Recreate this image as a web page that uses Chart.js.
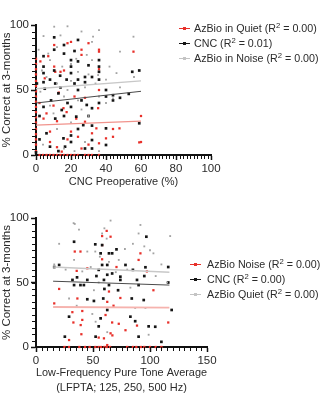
<!DOCTYPE html>
<html>
<head>
<meta charset="utf-8">
<script src="https://cdn.jsdelivr.net/npm/chart.js@4.4.1/dist/chart.umd.min.js"></script>
<style>
  body { margin: 0; background: #fff; }
  #wrap { position: relative; width: 324px; height: 400px; overflow: hidden; }
  .pane { position: absolute; left: 0; width: 324px; height: 200px; }
  .legend { position: absolute; font-family: "Liberation Sans", Arial, sans-serif; font-size: 10.7px; color: #2b2b2b; white-space: nowrap; }
  .legend .row { height: 15px; line-height: 15px; position: relative; }
  .legend .mark { position: absolute; top: 7px; width: 11px; height: 1px; }
  .legend .mark i { position: absolute; left: 4px; top: -1px; width: 3px; height: 3px; }
  .legend sup { font-size: 0.72em; line-height: 0; vertical-align: 0.5em; }
</style>
</head>
<body>
<div id="wrap">
  <div class="pane" style="top:0"><canvas id="topChart" width="324" height="200"></canvas></div>
  <div class="pane" style="top:200px"><canvas id="bottomChart" width="324" height="200"></canvas></div>
  <div class="legend" id="topLegend" style="left:179px; top:21px"></div>
  <div class="legend" id="bottomLegend" style="left:190px; top:257px"></div>
</div>
<script>
// ---- top panel: 3-month scores vs CNC preoperative (%) ----
const topQuiet = [
  [0,3],[0,8],[0,12],[0,16],[0,20],[0,25],[0,29],[0,33],[0,37],[0,41],[0,45],[0,49],[0,53],[0,57],[0,62],[0,66],[0,70],[0,74],
  [2,0],[4,0],[6,0],[8,0],[10,0],[12,0],[14,0],[16,0],[18,0],[20,0],[22,0],[24,0],[28,0],[30,0],[32,0],[36,0],
  [2.5,72],[10.4,84.6],[18,86],[26,81],[36,79.5],[55.7,79.5],[10.4,68],[14,64],[16,65],[26,77],
  [4.3,28],[10,38],[15.7,36],[17.5,33],[23,28],[35.5,36],[28,25.6],[8,18],[34.5,20.5],[47.7,20.5],
  [32,16.7],[20,18],[44,14],[40,12.8],[36,9],[59,9.7],[26,5],[14.7,2.6],
  [30,86],[20,87],[36,81],[7,76],[11,64],[36,66],[5,59],[36,50],[13,48],[60,30],[60,10],[44,20],
  [22,45],[28,44],[6,32],[12,26],[2,40],[18,12],[24,14],[30,8],[12,6],[8,10]
];
const topCnc = [
  [10.4,90.5],[24,88.5],[16,84.6],[10.4,81],[22,80],[4.3,76],[16,78],[20,73],[36,73],[24,72],
  [4.3,68],[10.4,65],[20,68],[30,69],[36,68],[4.3,63],[13.8,61],[20,63],[28,60],[32,60],
  [36,64],[59,65],[55,64],[8,58],[17.5,58],[24,58],[11,55],[28,56],[36,58],[4.3,56],[0.5,55],
  [12.8,47.4],[24,50],[40,50],[40,45],[53,47],[4.3,37],[14.7,34.6],[20,37],[29,38.5],[32,36],
  [11,28],[23,29.5],[27,23],[32,22.6],[40,20.5],[59,24.4],[6,16.7],[15.7,12.8],[20,15],[20,10],
  [32,11.5],[8,6.4],[40,7.7],[16.6,6.4],[32,5],
  [44,46],[44,42],[48,44],[22,55],[14,52],[5,51],[8.6,42],[28,5],[12.8,3],[2,12],
  [18,40],[26,42],[30,30],[16,30],[24,20],[36,40],[2,30],[0,2]
];
const topNoise = [
  [10.4,98.7],[18,99],[26,95],[36,96],[4.3,91.5],[14,92],[32.6,91],[48,79.5],[55.7,91],[1.5,81],
  [7,78],[12,83],[29,77],[32,87],[32,73],[23,74],[8,73],[42,68],[46,63],[20,70],
  [3.4,65],[15,68],[35.5,61.5],[2.5,48.7],[44,43.6],[40,40],[8,38],[16,45],[24,42],[30,30],
  [36,45],[12,20],[20,25],[28,10],[4,8],[16,5],[22,3],[36,3],[28,52],[12,55],
  [20,57],[24,64],[30,62],[6,60],[40,58],[48,52],[56,60],[18,50],[26,35],[10,32],[34,55]
];
const topFitX = [0, 60];
const topFitQuiet = [23, 26];
const topFitCnc = [40, 49];
const topFitNoise = [51, 57];

// ---- bottom panel: 3-month scores vs low-frequency PTA ----
const botNoise = [
  [65.4,85.5],[58,79],[34,74],[58,68],[91.6,72.6],[90,67.5],[45,61],[35.7,59],[70.6,62],[97.3,58.6],
  [20.3,45],[16,33.8],[36.3,37.6],[64,43],[74,38],[62.5,35],[68,32],[40.6,27.9],[31.9,27],[61,24.8],
  [40.6,21],[32.8,19],[39.2,17],[66.8,19],[72.6,18],[78.5,13],[88.6,16.6],[103,44],[116,19],[65.4,10.6],
  [67,9],[55,7.3],[59.6,6.7],[39.8,9.9],[29,5.4],[62.5,1.5],[58,86],[39,74],[62,90],
  [25,0],[29,0],[38,0],[43,0],[47,0],[52,0],[55,0],[57,0],[60,0],[62,0],[65,0],[80,0],[85,0],[88,0],
  [92,0],[95,0],[100,0],[105,0],[110,0]
];
const botCnc = [
  [33.4,81.6],[52,79.6],[58,79],[96.8,85.5],[70.6,75.7],[56.7,72.6],[64,72.6],[66.8,72.6],[58,63.6],[62.5,63.6],
  [78.5,63.6],[96,61.8],[116,62],[16,62],[20.3,63.6],[55,59.8],[66.8,57],[62.5,56],[74,54.5],[85,59.8],
  [32,52],[33.4,48],[39,48],[59.6,52],[64,48],[74,52],[88.6,52],[116,50],[45,37],[50.8,35.7],
  [59,37.6],[84,37.6],[94.5,36.4],[62.5,28.7],[119,28.7],[29,23.5],[56.7,22.2],[82.8,23.5],[87,20],[55,16],
  [98.8,16],[25.3,8],[52.3,8],[90,8],[110,4],[104.6,15.7],
  [36,54],[42,48],[53,55],[60,45],[72,44],[90,48],[95,55],[45,52]
];
const botQuiet = [
  [34,95.4],[65.4,98],[37.7,91],[58,88],[91.6,94.6],[117.7,86],[20.3,80],[45,74],[72.6,67.5],[103,72.6],
  [33.4,67.5],[40.6,58.6],[52,74],[33,96],[50.8,44],[82.8,46],[29,37.6],[35.7,32],[49.4,25.6],[87,30.3],
  [96,30.3],[52.3,19.6],[98.8,9.5],[62.5,11.5],
  [60,92],[62,84],[56,70],[64,66],[80,60],[85,80],[95,78],[100,75],[110,64],[16,64],
  [26,60],[48,62],[70,58],[78,76],[90,88],[105,55],[115,50],[55,50]
];
const botFitX = [15, 117];
const botFitNoise = [31, 30.5];
const botFitCnc = [51, 48];
const botFitQuiet = [62, 58];

const RED = '#e8302a', BLACK = '#151515', GRAY = '#a3a3a3';
const TEXT = '#2b2b2b';
const FONT = '"Liberation Sans", Arial, sans-serif';

const toPts = arr => arr.map(([x, y]) => ({ x, y }));
const fitLine = (xs, ys) => xs.map((x, i) => ({ x, y: ys[i] }));

function scatterSet(data, color, r) {
  return {
    type: 'scatter', data: toPts(data), backgroundColor: color, borderWidth: 0,
    pointStyle: 'rect', pointRadius: r, pointHoverRadius: r, clip: false, order: 2
  };
}
function lineSet(xs, ys, color, w) {
  return {
    type: 'line', data: fitLine(xs, ys), borderColor: color, borderWidth: w,
    pointRadius: 0, fill: false, order: 0
  };
}

// small ticks between the labelled ones
const minorTicks = {
  id: 'minorTicks',
  afterDatasetsDraw(chart, args, opts) {
    const { ctx, scales: { x, y } } = chart;
    ctx.save();
    ctx.strokeStyle = '#111';
    ctx.lineWidth = 1;
    ctx.beginPath();
    for (let v = x.min; v <= x.max + 1e-9; v += opts.xStep) {
      const px = Math.round(x.getPixelForValue(v)) + 0.5;
      ctx.moveTo(px, x.top); ctx.lineTo(px, x.top + 4);
    }
    for (let v = y.min; v <= y.max + 1e-9; v += opts.yStep) {
      const py = Math.round(y.getPixelForValue(v)) + 0.5;
      ctx.moveTo(y.right - 4, py); ctx.lineTo(y.right, py);
    }
    ctx.stroke();
    ctx.restore();
  }
};

function axes(xMax, xStep, xTitle, xHeight, titlePad) {
  const tickFont = { family: FONT, size: 11.5 };
  const titleFont = { family: FONT, size: 11 };
  const common = {
    type: 'linear', min: 0,
    border: { color: '#111', width: 2 },
    grid: { drawOnChartArea: false, tickLength: 5, tickColor: '#111', tickWidth: 1.5 }
  };
  return {
    x: {
      ...common, max: xMax,
      ticks: { stepSize: xStep, autoSkip: false, maxRotation: 0, color: TEXT, font: tickFont, padding: 2 },
      title: { display: true, text: xTitle, color: TEXT, font: { ...titleFont, lineHeight: 1.36 }, padding: { top: 0, bottom: titlePad } },
      afterFit: s => { s.height = xHeight; }
    },
    y: {
      ...common, max: 100,
      ticks: { stepSize: 50, color: TEXT, font: tickFont, padding: 2 },
      title: { display: true, text: '% Correct at 3-months', color: TEXT, font: { family: FONT, size: 11.5 }, padding: 0 },
      afterFit: s => { s.width = 36; }
    }
  };
}

new Chart(document.getElementById('topChart'), {
  type: 'scatter',
  data: {
    datasets: [
      lineSet(topFitX, topFitQuiet, '#f1938c', 1.2),
      lineSet(topFitX, topFitCnc, '#4a4a4a', 1),
      lineSet(topFitX, topFitNoise, '#c8c8c8', 1.4),
      scatterSet(topNoise, GRAY, 1.3),
      scatterSet(topCnc, BLACK, 1.9),
      scatterSet(topQuiet, RED, 1.6)
    ]
  },
  options: {
    responsive: false, animation: false, devicePixelRatio: 1,
    layout: { padding: { top: 25, right: 113, left: 0, bottom: 0 } },
    scales: axes(100, 20, 'CNC Preoperative (%)', 45, 11),
    plugins: { legend: { display: false }, tooltip: { enabled: false }, minorTicks: { xStep: 2, yStep: 5 } }
  },
  plugins: [minorTicks]
});

new Chart(document.getElementById('bottomChart'), {
  type: 'scatter',
  data: {
    datasets: [
      lineSet(botFitX, botFitNoise, '#f6b3ae', 1.8),
      lineSet(botFitX, botFitCnc, '#4a4a4a', 1),
      lineSet(botFitX, botFitQuiet, '#c8c8c8', 1.4),
      scatterSet(botQuiet, GRAY, 1.3),
      scatterSet(botCnc, BLACK, 1.9),
      scatterSet(botNoise, RED, 1.6)
    ]
  },
  options: {
    responsive: false, animation: false, devicePixelRatio: 1,
    layout: { padding: { top: 18, right: 117, left: 0, bottom: 0 } },
    scales: axes(150, 50, ['Low-Frequency Pure Tone Average', '(LFPTA; 125, 250, 500 Hz)'], 53, 5),
    plugins: { legend: { display: false }, tooltip: { enabled: false }, minorTicks: { xStep: 5, yStep: 5 } }
  },
  plugins: [minorTicks]
});

// legends with the R² values
const topLegendItems = [['AzBio in Quiet', '0.00', RED], ['CNC', '0.01', BLACK], ['AzBio in Noise', '0.00', '#c4c4c4']];
const bottomLegendItems = [['AzBio Noise', '0.00', RED], ['CNC', '0.00', BLACK], ['AzBio Quiet', '0.00', '#c4c4c4']];

function buildLegend(el, items, textLeft) {
  el.innerHTML = items.map(([name, r2, color]) =>
    `<div class="row"><span class="mark" style="left:0;background:${color}"><i style="background:${color}"></i></span>` +
    `<span style="position:absolute;left:${textLeft}px">${name} (R<sup>2</sup> = ${r2})</span></div>`
  ).join('');
}
buildLegend(document.getElementById('topLegend'), topLegendItems, 15);
buildLegend(document.getElementById('bottomLegend'), bottomLegendItems, 17);
</script>
</body>
</html>
